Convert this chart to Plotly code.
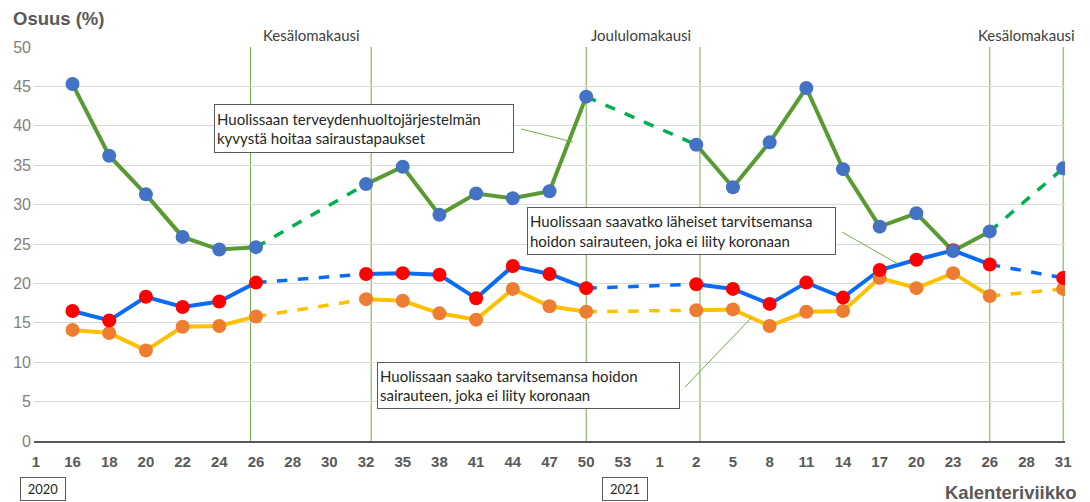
import plotly.graph_objects as go

# Calendar week labels (2020 -> 2021), one category per survey round
weeks = ["1", "16", "18", "20", "22", "24", "26", "28", "30", "32", "35", "38",
         "41", "44", "47", "50", "53", "1", "2", "5", "8", "11", "14", "17",
         "20", "23", "26", "28", "31"]

# Share of respondents (%), None = no survey that week
health_system = [None, 45.3, 36.2, 31.3, 25.9, 24.3, 24.6, None, None, 32.6,
                 34.8, 28.7, 31.4, 30.8, 31.7, 43.7, None, None, 37.6, 32.2,
                 37.9, 44.8, 34.5, 27.2, 28.9, 24.1, 26.6, None, 34.6]
relatives_care = [None, 16.5, 15.3, 18.3, 17.0, 17.7, 20.1, None, None, 21.2,
                  21.3, 21.1, 18.1, 22.2, 21.2, 19.4, None, None, 19.9, 19.3,
                  17.4, 20.1, 18.2, 21.7, 23.0, 24.2, 22.4, None, 20.7]
own_care = [None, 14.1, 13.7, 11.5, 14.5, 14.6, 15.8, None, None, 18.0,
            17.8, 16.2, 15.4, 19.3, 17.1, 16.4, None, None, 16.6, 16.7,
            14.6, 16.4, 16.5, 20.7, 19.4, 21.3, 18.4, None, 19.3]

holiday_weeks = [(6, 9, "Kesälomakausi"), (15, 18, "Joululomakausi"), (26, 28, "Kesälomakausi")]

x = list(range(len(weeks)))

# the page body keeps an 8px margin, so the figure is a bit smaller
OFF = 8
FIG_W, FIG_H = 1090 - OFF, 502 - OFF
# plot area in page pixels (for placing callouts)
L, T, W, H = 34, 47, 1031, 394
# the holiday markers in the original were hand drawn, slightly off the ticks
LINE_NUDGE = {6: -0.15, 9: 0.14, 18: 0.1}


def px(v):
    return (v - L) / W


def py(v):
    return (T + H - v) / H


def gap_segments(vals):
    """Pairs of points that bridge missing weeks (drawn dashed)."""
    pts = [(i, v) for i, v in enumerate(vals) if v is not None]
    segs = []
    for (i0, v0), (i1, v1) in zip(pts, pts[1:]):
        if i1 - i0 > 1:
            segs.append(([i0, i1], [v0, v1]))
    return segs


series = [
    (own_care, "#FFC000", "#FFC000", "#ED7D31"),
    (relatives_care, "#0A6CF2", "#0A6CF2", "#FF0000"),
    (health_system, "#5A9A32", "#00B050", "#4472C4"),
]

fig = go.Figure()

for vals, solid, dashed, _ in series:
    for sx, sy in gap_segments(vals):
        fig.add_trace(go.Scatter(x=sx, y=sy, mode="lines",
                                 line=dict(color=dashed, width=3.5, dash="dash"),
                                 hoverinfo="skip", showlegend=False))
    fig.add_trace(go.Scatter(x=x, y=vals, mode="lines", connectgaps=False,
                             line=dict(color=solid, width=4),
                             hoverinfo="skip", showlegend=False))

for vals, _, _, mcol in series:
    fig.add_trace(go.Scatter(x=x, y=vals, mode="markers",
                             marker=dict(color=mcol, size=14, line=dict(width=0)),
                             showlegend=False))

shapes = []
annotations = []
for a, b, label in holiday_weeks:
    for i in (a, b):
        xi = i + LINE_NUDGE.get(i, 0)
        shapes.append(dict(type="line", xref="x", yref="y", x0=xi, x1=xi, y0=0, y1=50,
                           line=dict(color="#70AD47", width=1), layer="below"))
    annotations.append(dict(x=(a + b) / 2, y=50, xref="x", yref="y", yanchor="bottom",
                            text=label, showarrow=False, yshift=1,
                            font=dict(family="Lato", size=15, color="#404040")))

# callout boxes with leader lines
callouts = [
    ("Huolissaan terveydenhuoltojärjestelmän<br>kyvystä hoitaa sairaustapaukset",
     214, 104, 306, 49, (521, 129), (573, 142)),
    ("Huolissaan saavatko läheiset tarvitsemansa<br>hoidon sairauteen, joka ei liity koronaan",
     527, 207, 315, 48, (842, 232), (898, 264)),
    ("Huolissaan saako tarvitsemansa hoidon<br>sairauteen, joka ei liity koronaan",
     377, 362, 309, 47, (685, 387), (752, 317)),
]
for text, bx, by, bw, bh, p0, p1 in callouts:
    shapes.append(dict(type="line", xref="paper", yref="paper",
                       x0=px(p0[0]), y0=py(p0[1]), x1=px(p1[0]), y1=py(p1[1]),
                       line=dict(color="#70AD47", width=1)))
    annotations.append(dict(xref="paper", yref="paper", x=px(bx), y=py(by),
                            xanchor="left", yanchor="top", text=text, align="left",
                            showarrow=False, width=bw - 12, height=bh - 6,
                            bgcolor="white", bordercolor="#595959", borderwidth=1,
                            borderpad=2,
                            font=dict(family="Lato", size=15, color="#262626")))

for text, bx in (("2020", 20), ("2021", 602)):
    annotations.append(dict(xref="paper", yref="paper", x=px(bx), y=py(477),
                            xanchor="left", yanchor="top", text=text, showarrow=False,
                            width=40, height=18, bgcolor="white",
                            bordercolor="#595959", borderwidth=1, borderpad=2,
                            font=dict(family="Lato", size=13, color="#262626")))

annotations.append(dict(xref="paper", yref="paper", x=px(11), y=py(6),
                        xanchor="left", yanchor="top", text="<b>Osuus (%)</b>",
                        showarrow=False,
                        font=dict(family="Arial", size=18.5, color="#595959")))
annotations.append(dict(xref="paper", yref="paper", x=px(1079), y=py(480),
                        xanchor="right", yanchor="top", text="<b>Kalenteriviikko</b>",
                        showarrow=False,
                        font=dict(family="Arial", size=18.5, color="#595959")))

fig.update_layout(
    width=FIG_W, height=FIG_H,
    margin=dict(l=L - OFF, r=FIG_W - (L - OFF) - W, t=T - OFF, b=FIG_H - (T - OFF) - H),
    paper_bgcolor="white", plot_bgcolor="white",
    shapes=shapes, annotations=annotations,
    xaxis=dict(range=[-0.05, 28.05], tickmode="array", tickvals=x,
               ticktext=[f"<b>{w}</b>" for w in weeks], automargin=False,
               showgrid=False, zeroline=False, showline=True,
               linecolor="#595959", linewidth=2, ticks="",
               ticklabelstandoff=6,
               tickfont=dict(family="Arial", size=15, color="#595959")),
    yaxis=dict(range=[0, 50], dtick=5, showgrid=True, gridcolor="#D9D9D9",
               gridwidth=1, zeroline=False, showline=False, ticks="",
               automargin=False, ticklabelstandoff=2,
               tickfont=dict(family="Arial", size=16, color="#7F7F7F")),
)

fig.write_html("out.html")
